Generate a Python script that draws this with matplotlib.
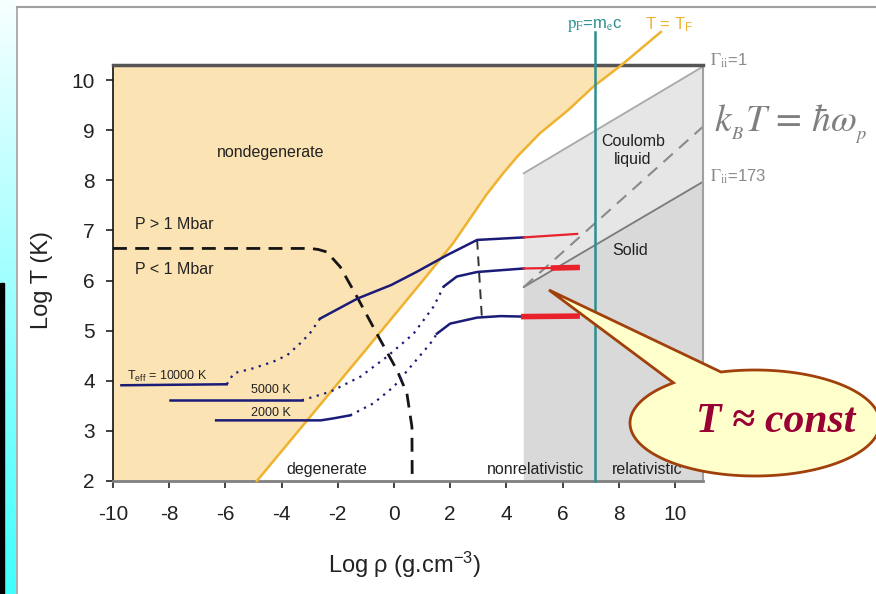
import numpy as np
import matplotlib.pyplot as plt
from matplotlib.patches import Polygon, Rectangle

plt.rcParams['font.family'] = ['Liberation Sans', 'DejaVu Sans']
plt.rcParams['mathtext.fontset'] = 'custom'
plt.rcParams['mathtext.rm'] = 'Liberation Sans'
plt.rcParams['mathtext.it'] = 'Liberation Sans:italic'
plt.rcParams['axes.unicode_minus'] = False

# --- dados (log rho, log T) ---
# linha T = T_F
tf_x = [-4.88, -3.0, -1.0, 1.0, 2.1, 3.3, 3.9, 4.4, 5.2, 6.2, 7.1, 8.1, 9.5]
tf_y = [2.0, 3.27, 4.62, 5.98, 6.74, 7.72, 8.15, 8.48, 8.94, 9.40, 9.87, 10.30, 10.96]

# p_F = m_e c
pf_x = 7.17

# linhas Gamma_ii e k_B T = hbar omega_p
coul_x = [4.62, 11.0]
gamma1_y = [8.14, 10.27]
gamma173_y = [5.87, 7.97]
plasma_y = [5.87, 9.07]

# P = 1 Mbar
mbar_x = [-10.0, -2.98, -2.7, -2.39, -1.91, -1.32, -0.61, 0.11, 0.46, 0.64, 0.65]
mbar_y = [6.64, 6.64, 6.62, 6.57, 6.27, 5.68, 4.94, 4.21, 3.75, 3.08, 2.0]

# trajetórias Teff = 10000 K
t1_a_x = [-9.7, -5.95]
t1_a_y = [3.91, 3.93]
t1_b_x = [-5.95, -5.7, -5.0, -4.3, -3.8, -3.35, -3.0, -2.63]
t1_b_y = [3.93, 4.15, 4.25, 4.38, 4.51, 4.74, 4.94, 5.24]
t1_c_x = [-2.63, -1.3, -0.1, 0.8, 1.9, 2.96, 4.62]
t1_c_y = [5.24, 5.64, 5.91, 6.17, 6.51, 6.81, 6.86]
t1_r_x = [4.62, 6.52]
t1_r_y = [6.86, 6.93]

# Teff = 5000 K
t2_a_x = [-7.97, -3.28]
t2_a_y = [3.61, 3.61]
t2_b_x = [-3.28, -2.27, -1.2, -0.25, 0.7, 1.41, 1.77]
t2_b_y = [3.61, 3.78, 4.08, 4.48, 4.94, 5.48, 5.88]
t2_c_x = [1.77, 2.24, 2.96, 4.62]
t2_c_y = [5.88, 6.08, 6.17, 6.24]
t2_r_x = [4.62, 5.68, 6.52]
t2_r_y = [6.24, 6.25, 6.26]

# Teff = 2000 K
t3_a_x = [-6.33, -2.6, -2.15, -1.56]
t3_a_y = [3.21, 3.21, 3.25, 3.31]
t3_b_x = [-1.56, -0.73, -0.01, 0.70, 1.29, 1.53]
t3_b_y = [3.31, 3.55, 3.88, 4.35, 4.74, 4.94]
t3_c_x = [1.53, 2.0, 2.96, 3.79, 4.62]
t3_c_y = [4.94, 5.14, 5.26, 5.29, 5.28]
t3_r_x = [4.62, 6.52]
t3_r_y = [5.28, 5.29]

# ligação tracejada entre as trajetórias
link_x = [2.96, 3.13]
link_y = [6.81, 5.26]

azul = '#1B1B78'
vermelho = '#E8212B'
laranja = '#EFB22E'
verde = '#2B8F8F'

fig = plt.figure(figsize=(8.76, 5.94), dpi=100)
ax = fig.add_axes([113 / 876, 1 - 481 / 594, 590 / 876, 416 / 594])
ax.set_xlim(-10, 11)
ax.set_ylim(2, 10.3)

# região não degenerada
xs = [-10.0] + tf_x + [-10.0]
ys = [2.0] + tf_y + [tf_y[-1]]
ax.fill(xs, ys, color='#FBE3B3', lw=0, zorder=1)

# regiões de Coulomb
ax.fill([coul_x[0], coul_x[0], coul_x[1], coul_x[1]],
        [gamma173_y[0], gamma1_y[0], gamma1_y[1], gamma173_y[1]],
        color='#E6E6E6', lw=0, zorder=1)
ax.fill([coul_x[0], coul_x[0], coul_x[1], coul_x[1]],
        [2.0, gamma173_y[0], gamma173_y[1], 2.0],
        color='#D9D9D9', lw=0, zorder=1)
ax.plot(coul_x, gamma1_y, color='#A8A8A8', lw=1.3, zorder=2)
ax.plot(coul_x, gamma173_y, color='#7A7A7A', lw=1.3, zorder=2)
ax.plot(coul_x, plasma_y, color='#8A8A8A', lw=1.5, dashes=(6, 4), zorder=2)

ax.plot(tf_x, tf_y, color=laranja, lw=1.8, zorder=3, clip_on=False)
ax.plot([pf_x, pf_x], [2.0, 10.96], color=verde, lw=1.8, zorder=4, clip_on=False)

ax.plot(mbar_x, mbar_y, color='#151515', lw=2, dashes=(5, 3), zorder=4)
ax.plot(link_x, link_y, color='#333333', lw=1.4, dashes=(5, 3.5), zorder=4)

pontilhado = (0, (1, 2.5))
for a_x, a_y, b_x, b_y, c_x, c_y in [
        (t1_a_x, t1_a_y, t1_b_x, t1_b_y, t1_c_x, t1_c_y),
        (t2_a_x, t2_a_y, t2_b_x, t2_b_y, t2_c_x, t2_c_y),
        (t3_a_x, t3_a_y, t3_b_x, t3_b_y, t3_c_x, t3_c_y)]:
    ax.plot(a_x, a_y, color=azul, lw=1.8, zorder=5)
    ax.plot(b_x, b_y, color=azul, lw=1.6, linestyle=pontilhado, zorder=5)
    ax.plot(c_x, c_y, color=azul, lw=1.8, zorder=5)

ax.plot(t1_r_x, t1_r_y, color=vermelho, lw=1.6, zorder=5)
ax.plot(t2_r_x[:2], t2_r_y[:2], color=vermelho, lw=1.6, zorder=5)
ax.plot(t2_r_x[1:], t2_r_y[1:], color=vermelho, lw=4, zorder=5)
ax.plot(t3_r_x, t3_r_y, color=vermelho, lw=4, zorder=5)

# eixos
ax.spines['left'].set_color('#111111')
ax.spines['left'].set_linewidth(1.2)
ax.spines['top'].set_color('#555555')
ax.spines['top'].set_linewidth(2.5)
ax.spines['bottom'].set_color('#808080')
ax.spines['bottom'].set_linewidth(2)
ax.spines['right'].set_color('#A0A0A0')
ax.spines['right'].set_linewidth(1.5)
ax.set_xticks(range(-10, 11, 2))
ax.set_yticks(range(2, 11))
ax.tick_params(direction='out', length=5, width=1.2, labelsize=15, colors='#222222')
ax.tick_params(axis='x', pad=12)
ax.tick_params(axis='y', pad=8)

fig.text(405 / 876, 1 - 565 / 594, 'Log ρ (g.cm$^{-3}$)', fontsize=17,
         ha='center', va='center', color='#222222')
fig.text(42 / 876, 1 - 280 / 594, 'Log T (K)', fontsize=17, rotation=90,
         ha='center', va='center', color='#222222')

# rótulos das regiões
rot = dict(fontsize=11.5, color='#222222', ha='center', va='center', zorder=6)
ax.text(-4.4, 8.56, 'nondegenerate', **rot)
ax.text(-2.38, 2.22, 'degenerate', **rot)
ax.text(5.03, 2.22, 'nonrelativistic', **rot)
ax.text(9.0, 2.22, 'relativistic', **rot)
ax.text(8.5, 8.6, 'Coulomb\nliquid', fontsize=11.5, color='#222222',
        ha='center', va='center', linespacing=1.25, zorder=6)
ax.text(8.42, 6.6, 'Solid', **rot)
ax.text(-9.22, 7.11, 'P > 1 Mbar', fontsize=11.5, color='#222222', va='center')
ax.text(-9.22, 6.21, 'P < 1 Mbar', fontsize=11.5, color='#222222', va='center')
ax.text(-9.5, 4.09, r'T$_{\rm eff}$ = 10000 K', fontsize=9, color='#222222', va='center')
ax.text(-3.69, 3.81, '5000 K', fontsize=9, color='#222222', va='center', ha='right')
ax.text(-3.69, 3.36, '2000 K', fontsize=9, color='#222222', va='center', ha='right')

ax.text(11.25, 10.38, r'$\Gamma_{\rm ii}$=1', fontsize=12, color='#8A8A8A',
        va='center', clip_on=False, math_fontfamily='stix')
ax.text(11.25, 8.07, r'$\Gamma_{\rm ii}$=173', fontsize=12, color='#8A8A8A',
        va='center', clip_on=False, math_fontfamily='stix')

# camada de decoração (coordenadas em pixels)
deco = fig.add_axes([0, 0, 1, 1], zorder=10)
deco.axis('off')
deco.patch.set_alpha(0)

faixa = np.linspace(0, 1, 256).reshape(-1, 1, 1)
topo = np.array([0.97, 1.0, 1.0])
base = np.array([0.25, 1.0, 1.0])
grad = topo + (base - topo) * faixa
deco.imshow(grad, extent=[0, 16, 594, 0], aspect='auto', zorder=0)
deco.add_patch(Rectangle((0, 283), 3.5, 311, color='black', zorder=1))
deco.plot([16.5, 16.5], [7, 594], color='#A0A0A0', lw=1.2)
deco.plot([16.5, 876], [7, 7], color='#A0A0A0', lw=1.5)
deco.set_xlim(0, 876)
deco.set_ylim(594, 0)

deco.text(595, 25, r'$\mathrm{p_F}$=m$_\mathrm{e}$c', fontsize=12, color=verde,
          ha='center', va='center', math_fontfamily='stix')
deco.text(645, 25, r'T = T$_\mathrm{F}$', fontsize=12, color=laranja,
          ha='left', va='center')
deco.text(714, 124, r'$k_{_B}T\,=\,\hbar\omega_{_p}$', fontsize=27, color='#7F7F7F',
          ha='left', va='center', math_fontfamily='stix')

# balão "T ≈ const"
cx, cy, a, b = 755, 423, 125, 53
th = np.radians(np.linspace(130.7, 105.8 + 360, 200))
bx = np.append(cx + a * np.cos(th), 549)
by = np.append(cy - b * np.sin(th), 290)
deco.add_patch(Polygon(np.column_stack([bx, by]), closed=True, facecolor='#FFFFCC',
                       edgecolor='#A0400A', lw=2, zorder=5))
deco.text(776, 422, 'T ≈ const', fontsize=30, color='#990033', ha='center', va='center',
          family='Liberation Serif', style='italic', weight='bold', zorder=6)

fig.savefig('out.png', dpi=100)
